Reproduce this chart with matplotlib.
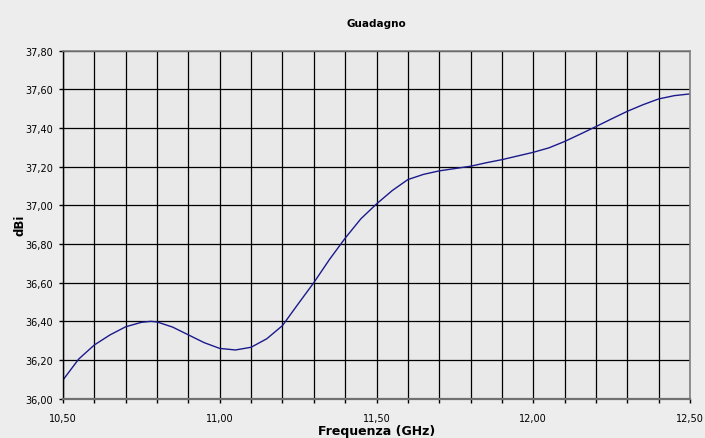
import matplotlib.pyplot as plt
plt.switch_backend('agg')
from matplotlib.ticker import MultipleLocator, FuncFormatter

# frequency (GHz) and gain (dBi)
freq = [10.50, 10.55, 10.60, 10.65, 10.70, 10.75, 10.78, 10.80, 10.85, 10.90,
        10.95, 11.00, 11.05, 11.10, 11.15, 11.20, 11.25, 11.30, 11.35, 11.40,
        11.45, 11.50, 11.55, 11.60, 11.65, 11.70, 11.75, 11.80, 11.85, 11.90,
        11.95, 12.00, 12.05, 12.10, 12.15, 12.20, 12.25, 12.30, 12.35, 12.40,
        12.45, 12.50]
gain = [36.097, 36.205, 36.278, 36.330, 36.372, 36.395, 36.400, 36.397, 36.370, 36.330,
        36.290, 36.260, 36.252, 36.266, 36.310, 36.378, 36.490, 36.600, 36.720, 36.830,
        36.930, 37.007, 37.076, 37.133, 37.160, 37.178, 37.190, 37.202, 37.220, 37.236,
        37.255, 37.274, 37.297, 37.330, 37.368, 37.407, 37.447, 37.486, 37.520, 37.550,
        37.567, 37.576]

fig = plt.figure(figsize=(7.05, 4.39), dpi=100, facecolor='#ededed')
ax = fig.add_axes([0.0894, 0.0895, 0.8893, 0.793])
ax.set_facecolor('#e9e9e9')

ax.plot(freq, gain, color='#1a1a8c', linewidth=1.0)

ax.set_xlim(10.5, 12.5)
ax.set_ylim(36.0, 37.8)
ax.xaxis.set_major_locator(MultipleLocator(0.5))
ax.xaxis.set_minor_locator(MultipleLocator(0.1))
ax.yaxis.set_major_locator(MultipleLocator(0.2))

comma = FuncFormatter(lambda v, p: ('%.2f' % v).replace('.', ','))
ax.xaxis.set_major_formatter(comma)
ax.yaxis.set_major_formatter(comma)

ax.grid(True, which='both', axis='x', color='black', linewidth=0.9)
ax.grid(True, which='major', axis='y', color='black', linewidth=0.9)
ax.set_axisbelow(True)

for s in ['top', 'right']:
    ax.spines[s].set_color('#808080')
    ax.spines[s].set_linewidth(1.2)
ax.spines['bottom'].set_color('#707070')
ax.spines['bottom'].set_linewidth(1.6)
ax.spines['left'].set_color('black')
ax.spines['left'].set_linewidth(1.0)

ax.tick_params(axis='both', which='both', direction='out', length=3, width=1,
               labelsize=7, colors='black', pad=4)
ax.tick_params(axis='x', which='major', pad=7)

ax.set_title('Guadagno', fontsize=7.5, fontweight='bold', pad=18)
ax.set_xlabel('Frequenza (GHz)', fontsize=9, fontweight='bold', labelpad=1)
ax.set_ylabel('dBi', fontsize=8.5, fontweight='bold', labelpad=-1)

fig.savefig('out.png', dpi=100, facecolor=fig.get_facecolor())
